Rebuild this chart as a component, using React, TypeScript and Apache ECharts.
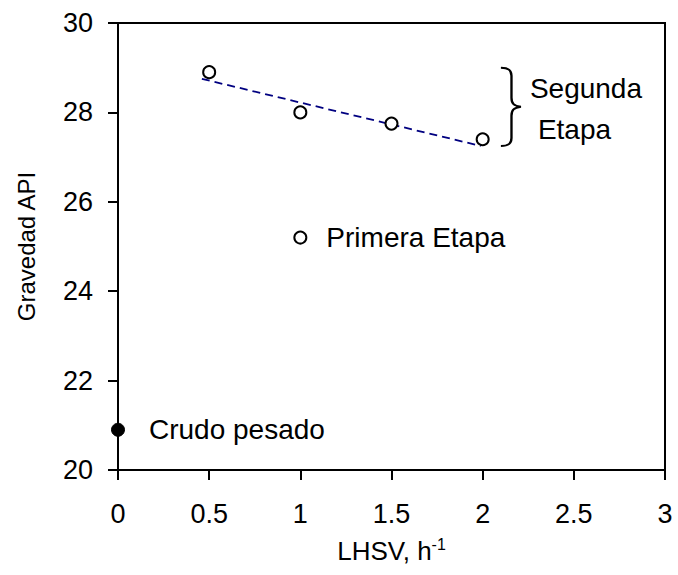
import React, { useEffect, useRef } from "react";
import * as echarts from "echarts";

const crudeX = [0];
const crudeY = [20.9];
const firstStageX = [1];
const firstStageY = [25.2];
const secondStageX = [0.5, 1, 1.5, 2];
const secondStageY = [28.9, 28.0, 27.75, 27.4];
const trendX = [0.46, 1.99];
const trendY = [28.75, 27.25];
const xTicks = [0, 0.5, 1, 1.5, 2, 2.5, 3];
const yTicks = [20, 22, 24, 26, 28, 30];

const FONT = "Liberation Sans, Arial, sans-serif";

echarts.graphic.registerShape(
  "brace",
  echarts.graphic.extendPath(
    "M0,0 C6,0 9,2 9,8 L9,30 C9,36 11,38 17,39 C11,40 9,42 9,48 L9,70 C9,76 6,78 0,78",
    {}
  )
);

export default function App() {
  const ref = useRef<HTMLDivElement>(null);
  useEffect(() => {
    if (!ref.current) return;
    const chart = echarts.init(ref.current, null, { renderer: "svg" });
    const zip = (xs: number[], ys: number[]) => xs.map((x, i) => [x, ys[i]]);
    chart.setOption({
      animation: false,
      backgroundColor: "#fff",
      grid: {
        left: 118,
        top: 23,
        right: 13,
        bottom: 105,
        show: true,
        borderColor: "#000",
        borderWidth: 2,
      },
      xAxis: {
        type: "value",
        min: xTicks[0],
        max: xTicks[xTicks.length - 1],
        interval: 0.5,
        name: "LHSV, h{sup|-1}",
        nameLocation: "middle",
        nameGap: 66,
        nameTextStyle: {
          fontFamily: FONT,
          fontSize: 26,
          color: "#000",
          rich: {
            sup: { fontSize: 16, verticalAlign: "top", padding: [0, 0, 14, 0], fontFamily: FONT, color: "#000" },
          },
        },
        axisLine: { show: true, lineStyle: { color: "#000", width: 2 } },
        axisTick: { show: true, inside: false, length: 10, lineStyle: { color: "#000", width: 2 } },
        axisLabel: { fontFamily: FONT, fontSize: 27, color: "#000", margin: 30 },
        splitLine: { show: false },
      },
      yAxis: {
        type: "value",
        min: yTicks[0],
        max: yTicks[yTicks.length - 1],
        interval: 2,
        name: "Gravedad API",
        nameLocation: "middle",
        nameGap: 80,
        nameRotate: 90,
        nameTextStyle: { fontFamily: FONT, fontSize: 24, color: "#000" },
        axisLine: { show: true, lineStyle: { color: "#000", width: 2 } },
        axisTick: { show: true, inside: false, length: 10, lineStyle: { color: "#000", width: 2 } },
        axisLabel: { fontFamily: FONT, fontSize: 27, color: "#000", margin: 25 },
        splitLine: { show: false },
      },
      series: [
        {
          name: "Tendencia",
          type: "line",
          data: zip(trendX, trendY),
          showSymbol: false,
          symbol: "none",
          lineStyle: { color: "#000080", width: 1.8, type: [8, 5] },
          z: 2,
        },
        {
          name: "Segunda Etapa",
          type: "scatter",
          data: zip(secondStageX, secondStageY),
          symbol: "circle",
          symbolSize: 12,
          itemStyle: { color: "#fff", borderColor: "#000", borderWidth: 2, opacity: 1 },
          z: 3,
        },
        {
          name: "Primera Etapa",
          type: "scatter",
          data: zip(firstStageX, firstStageY),
          symbol: "circle",
          symbolSize: 12,
          itemStyle: { color: "#fff", borderColor: "#000", borderWidth: 2, opacity: 1 },
          label: {
            show: true,
            position: "right",
            distance: 19,
            formatter: "Primera Etapa",
            fontFamily: FONT,
            fontSize: 28,
            color: "#000",
            opacity: 1,
          },
          z: 3,
        },
        {
          name: "Crudo pesado",
          type: "scatter",
          data: zip(crudeX, crudeY),
          symbol: "circle",
          symbolSize: 13,
          itemStyle: { color: "#000", borderColor: "#000", borderWidth: 1, opacity: 1 },
          label: {
            show: true,
            position: "right",
            distance: 24,
            formatter: "Crudo pesado",
            fontFamily: FONT,
            fontSize: 28,
            color: "#000",
            opacity: 1,
          },
          clip: false,
          z: 3,
        },
      ],
    });

    const top = chart.convertToPixel({ gridIndex: 0 }, [2.1, 29.0]) as number[];
    const bot = chart.convertToPixel({ gridIndex: 0 }, [2.1, 27.25]) as number[];
    const h = bot[1] - top[1];
    chart.setOption({
      graphic: [
        {
          type: "brace",
          x: top[0],
          y: top[1],
          scaleX: 20 / 17,
          scaleY: h / 78,
          style: { fill: "none", stroke: "#000", lineWidth: 2 },
        },
        {
          type: "text",
          x: top[0] + 29,
          y: top[1] + h * 0.26,
          style: {
            text: "Segunda",
            font: `28px ${FONT}`,
            fill: "#000",
            textVerticalAlign: "middle",
          },
        },
        {
          type: "text",
          x: top[0] + 37,
          y: top[1] + h * 0.785,
          style: {
            text: "Etapa",
            font: `28px ${FONT}`,
            fill: "#000",
            textVerticalAlign: "middle",
          },
        },
      ],
    });

    return () => chart.dispose();
  }, []);
  return <div ref={ref} style={{ width: 678, height: 575, position: "absolute", left: 0, top: 0 }} />;
}
